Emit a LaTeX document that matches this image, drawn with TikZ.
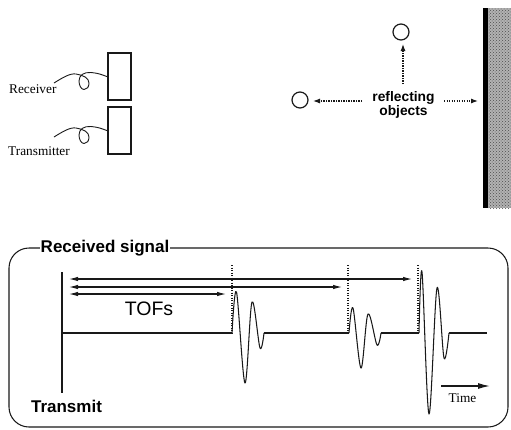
\documentclass[tikz,border=0pt]{standalone}
\usepackage{fontspec}
\setmainfont{Liberation Serif}
\setsansfont{Liberation Sans}
\usetikzlibrary{arrows.meta,patterns}
\tikzset{
  ink/.style={line width=1.05pt,draw=black!90},
  serifl/.style={font=\rmfamily\fontsize{13.3}{13.3}\selectfont,inner sep=0pt},
  boldl/.style={font=\sffamily\bfseries\fontsize{#1}{#1}\selectfont,inner sep=0pt,align=center},
  box/.style={ink,minimum width=23pt,minimum height=47pt,inner sep=0pt},
  ball/.style={circle,line width=1.2pt,draw=black!90,minimum size=16pt,inner sep=0pt},
  dot/.style={line width=1.1pt,draw=black!90,dash pattern=on 1.3pt off 1.2pt},
  dotarrow/.style={dot,-{Latex[length=7pt,width=5pt,sep=0pt]}},
  span/.style={ink,{Latex[length=9pt,width=4.5pt]}-{Latex[length=9pt,width=4.5pt]}},
  wave/.style={ink,line join=round},
}
\begin{document}
\begin{tikzpicture}[x=1pt,y=-1pt]
\useasboundingbox (0,0) rectangle (511,429);
% transducers
\node[box] (rx) at (119.5,76.5) {};
\node[box] (tx) at (119.5,130.5) {};
\node[serifl,anchor=west] (rxl) at (9,89) {Receiver};
\node[serifl,anchor=west] (txl) at (8,151) {Transmitter};
\coordinate (rw) at (54,83);
\coordinate (tw) at (54,137);
\coordinate (rp) at (108,77);
\coordinate (tp) at (108,131);
\draw[ink,line width=0.9pt] (rw) .. controls (62,78) and (70,73) .. (76,74)
  .. controls (83,75) and (89,78) .. (89,83)
  .. controls (89,87) and (87,89.5) .. (84,89.5)
  .. controls (81,89.5) and (79,85) .. (79,81)
  .. controls (79,75) and (84,72) .. (91,72.5)
  .. controls (98,73) and (103,75) .. (rp);
\draw[ink,line width=0.9pt] (tw) .. controls (62,132) and (70,127) .. (76,128)
  .. controls (83,129) and (89,132) .. (89,137)
  .. controls (89,141) and (87,143.5) .. (84,143.5)
  .. controls (81,143.5) and (79,139) .. (79,135)
  .. controls (79,129) and (84,126) .. (91,126.5)
  .. controls (98,127) and (103,129) .. (tp);
% reflecting objects
\node[ball] (top) at (401,32) {};
\node[ball] (left) at (300,100) {};
\node[boldl=13.8] (refl) at (403.5,105) {reflecting\\[0.5pt]objects};
\fill[black!30] (488,8) rectangle (511,208);
\fill[pattern=crosshatch dots,pattern color=black!70] (488,8) rectangle (511,208);
\fill[black] (483,8) rectangle (488,208);
\coordinate (wall) at (478,101);
\coordinate (us) at (403,84);
\coordinate (ue) at (403,44);
\coordinate (ls) at (362,101);
\coordinate (le) at (313,101);
\coordinate (rs1) at (444,101);
\draw[dotarrow] (us) -- (ue);
\draw[dotarrow] (ls) -- (le);
\draw[dotarrow] (rs1) -- (wall);
% received signal frame
\draw[ink,rounded corners=20pt] (9,248) rectangle (508,427);
\node[boldl=17,fill=white,inner xsep=1pt,inner ysep=3pt] (rs) at (105,248) {Received signal};
% signal
\coordinate (t0) at (62,272);
\coordinate (t1) at (62,393);
\draw[ink] (t0) -- (t1);
\node[boldl=17] (tr) at (66.5,406) {Transmit};
\node[font=\sffamily\fontsize{19.5}{19.5}\selectfont,inner sep=0pt] (tof) at (149,309) {TOFs};
\coordinate (a1) at (69,294); \coordinate (b1) at (226,294);
\coordinate (a2) at (69,287); \coordinate (b2) at (342,287);
\coordinate (a3) at (69,279); \coordinate (b3) at (412,279);
\draw[span] (a1) -- (b1);
\draw[span] (a2) -- (b2);
\draw[span] (a3) -- (b3);
\foreach \n/\x in {d1/232,d2/348,d3/418}{
  \coordinate (\n t) at (\x,265);
  \coordinate (\n b) at (\x,333);
  \draw[dot] (\n t) -- (\n b);
}
\coordinate (s0) at (62,333);
\coordinate (p1) at (232,333);
\coordinate (e1) at (264,333);
\coordinate (p2) at (349,333);
\coordinate (e2) at (381,333);
\coordinate (p3) at (419,333);
\coordinate (e3) at (449,333);
\coordinate (s1) at (487,333);
\draw[ink] (s0) -- (p1);
\draw[ink] (e1) -- (p2);
\draw[ink] (e2) -- (p3);
\draw[ink] (e3) -- (s1);
\draw[wave] plot[smooth,tension=0.55] coordinates {(p1) (236.5,292) (245,383) (252,302) (260,348) (e1)};
\draw[wave] plot[smooth,tension=0.55] coordinates {(p2) (353,308) (361,368) (368,314) (377,345) (e2)};
\draw[wave] plot[smooth,tension=0.55] coordinates {(p3) (422,272) (429,414) (437,288) (444,358) (e3)};
% time
\coordinate (ta) at (441,386);
\coordinate (tb) at (490,386);
\draw[line width=1.3pt,draw=black!90,-{Latex[length=12pt,width=6pt]}] (ta) -- (tb);
\node[serifl] (time) at (462.5,398) {Time};
\end{tikzpicture}
\end{document}
